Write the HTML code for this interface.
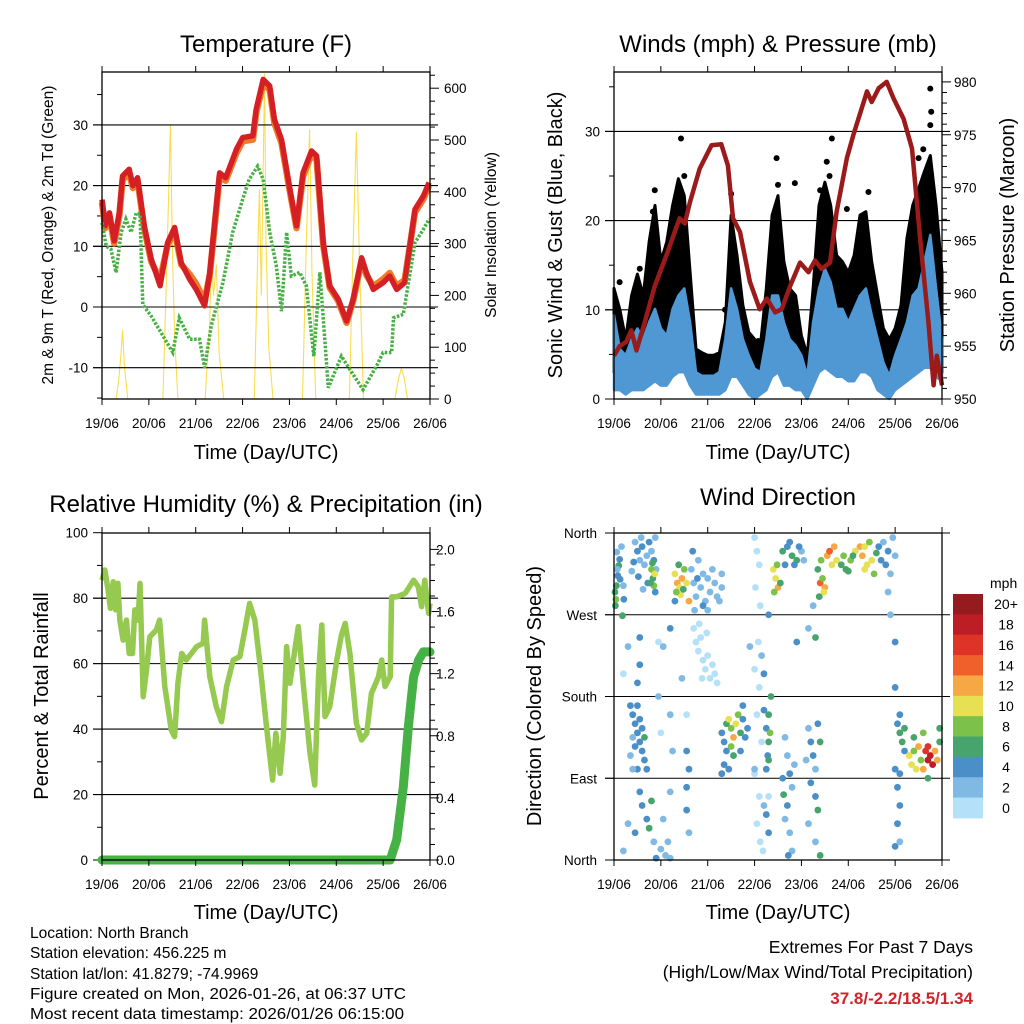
<!DOCTYPE html>
<html><head><meta charset="utf-8"><style>
html,body{margin:0;padding:0;background:#fff}
svg{display:block}
text{font-family:"Liberation Sans",sans-serif;fill:#000}
</style></head><body>
<svg id="fig" width="1024" height="1024" viewBox="0 0 1024 1024" xmlns="http://www.w3.org/2000/svg">
<g id="layer"></g>
<text x="266" y="52" font-size="24" text-anchor="middle">Temperature (F)</text>
<text x="778" y="52" font-size="24" text-anchor="middle">Winds (mph) &amp; Pressure (mb)</text>
<text x="266" y="512" font-size="24" text-anchor="middle">Relative Humidity (%) &amp; Precipitation (in)</text>
<text x="778" y="505" font-size="24" text-anchor="middle">Wind Direction</text>
<text x="266" y="459" font-size="20" text-anchor="middle">Time (Day/UTC)</text>
<text x="778" y="459" font-size="20" text-anchor="middle">Time (Day/UTC)</text>
<text x="266" y="919" font-size="20" text-anchor="middle">Time (Day/UTC)</text>
<text x="778" y="919" font-size="20" text-anchor="middle">Time (Day/UTC)</text>
<text transform="translate(53,235) rotate(-90)" font-size="15.5" text-anchor="middle">2m &amp; 9m T (Red, Orange) &amp; 2m Td (Green)</text>
<text transform="translate(496,235) rotate(-90)" font-size="15.5" text-anchor="middle">Solar Insolation (Yellow)</text>
<text transform="translate(562,235) rotate(-90)" font-size="20" text-anchor="middle">Sonic Wind &amp; Gust (Blue, Black)</text>
<text transform="translate(1014,235) rotate(-90)" font-size="20" text-anchor="middle">Station Pressure (Maroon)</text>
<text transform="translate(48,696) rotate(-90)" font-size="20" text-anchor="middle">Percent &amp; Total Rainfall</text>
<text transform="translate(541,696) rotate(-90)" font-size="20" text-anchor="middle">Direction (Colored By Speed)</text>
<g font-size="15.5">
<text x="30" y="938">Location: North Branch</text>
<text x="30" y="958">Station elevation: 456.225 m</text>
<text x="30" y="979">Station lat/lon: 41.8279; -74.9969</text>
<text x="30" y="999" textLength="376" lengthAdjust="spacingAndGlyphs">Figure created on Mon, 2026-01-26, at 06:37 UTC</text>
<text x="30" y="1019" textLength="374" lengthAdjust="spacingAndGlyphs">Most recent data timestamp: 2026/01/26 06:15:00</text>
</g>
<text x="973" y="953" font-size="17.5" text-anchor="end">Extremes For Past 7 Days</text>
<text x="973" y="978" font-size="17.5" text-anchor="end">(High/Low/Max Wind/Total Precipitation)</text>
<text x="973" y="1004" font-size="17" font-weight="bold" text-anchor="end" style="fill:#d0232a">37.8/-2.2/18.5/1.34</text>
</svg>
<script>
// ---------- data ----------
const dayLabels=["19/06","20/06","21/06","22/06","23/06","24/06","25/06","26/06"];
// temperature (F)
const tDays=[0,0.07,0.16,0.26,0.37,0.44,0.58,0.66,0.76,0.9,1.05,1.24,1.4,1.55,1.69,1.87,2.01,2.19,2.3,2.51,2.64,2.87,3.0,3.22,3.29,3.44,3.58,3.68,3.83,4.01,4.15,4.29,4.47,4.58,4.72,4.86,5.04,5.22,5.36,5.54,5.64,5.79,6.0,6.14,6.29,6.46,6.68,6.86,6.98];
const t2m=[17.7,13.4,15.5,10.9,15.5,21.6,22.7,20,21.3,13.4,7.9,3.5,10.6,13.1,7.3,4.6,2.9,0.2,5.7,22.1,21.3,26,27.9,28.2,32.6,37.5,36.4,30.9,27.6,19.4,13.4,22.1,25.7,24.9,10.6,3.5,1.3,-2.3,1.3,8.1,5.7,2.9,4,5.1,2.9,4,16.1,18.3,20.5];
const t9m=[17.2,13.0,15.0,10.5,15.0,21.0,22.0,19.6,20.8,13.0,7.5,4.5,10.2,12.6,7.0,5.4,3.8,1.0,5.3,21.5,20.8,25.4,27.3,27.6,32.0,36.8,35.8,30.3,27.0,19.0,13.0,21.5,25.1,24.3,10.2,3.2,1.0,-2.6,1.0,7.7,5.3,3.4,4.6,5.6,3.4,4.5,15.6,17.8,20.0];
const tdDays=[0,0.09,0.19,0.3,0.41,0.51,0.62,0.73,0.81,0.87,1.05,1.26,1.51,1.65,1.87,2.08,2.19,2.33,2.58,2.79,3.0,3.14,3.32,3.44,3.58,3.72,3.83,3.94,4.04,4.22,4.36,4.52,4.65,4.83,5.11,5.29,5.57,5.86,6.0,6.18,6.22,6.43,6.68,6.86,6.98];
const td2m=[13.9,10,9.5,5.7,12.3,14.5,12.3,15.5,15.3,0.4,-1.5,-4.2,-7.5,-1.8,-5.3,-5.3,-10,-3.1,4,12.3,17.7,21,23.2,21,12.3,6.8,-0.7,12.3,5.1,5.7,3.5,-8.1,5.7,-13.3,-8.1,-10.3,-13.6,-9.7,-7.5,-7.5,-1.8,-1.2,10.6,12.8,14.5];
const solarDays=[0,0.3,0.36,0.4,0.44,0.48,0.55,1.3,1.38,1.46,1.5,1.55,1.62,2.2,2.3,2.33,2.38,2.44,2.5,2.6,3.25,3.33,3.36,3.4,3.47,3.5,3.56,3.65,4.28,4.36,4.43,4.48,4.56,5.28,5.36,5.43,5.5,5.58,6.25,6.33,6.39,6.45,6.52,7];
const solarVals=[0,0,40,80,133,60,0,0,250,529,300,120,0,0,150,285,200,260,90,0,0,300,404,200,629,300,100,0,0,300,520,250,0,0,300,516,250,0,0,40,59,40,0,0];
// winds (mph) & pressure (mb)
const wDays=[0,0.125,0.25,0.375,0.5,0.625,0.75,0.875,1,1.125,1.25,1.375,1.5,1.625,1.75,1.875,2,2.125,2.25,2.375,2.5,2.625,2.75,2.875,3,3.125,3.25,3.375,3.5,3.625,3.75,3.875,4,4.125,4.25,4.375,4.5,4.625,4.75,4.875,5,5.125,5.25,5.375,5.5,5.625,5.75,5.875,6,6.125,6.25,6.375,6.5,6.625,6.75,6.875,7];
const gustHi=[12.4,10,6.7,11.6,14,11.6,17.6,21.7,15.4,17.6,21.7,24.7,22.8,14.2,5.6,5.2,4.9,4.9,5.2,8.6,20.6,16.1,10.5,7.5,6.7,6,12.4,20.6,22.8,15.4,12.4,11.6,7.1,4.9,12.4,21.7,24.3,21.7,16.1,15.4,14.2,16.1,20.6,21,15.4,11.6,7.9,6.7,7.9,10.5,18,21.7,23.6,25.5,27.3,21.7,14.2];
const gustLo=[3,2,2,3,3,3,3,4,3,3,4,4,4,3,1,1,1,1,1,2,4,4,3,2,1,1,2,4,4,3,3,2,2,1,3,4,5,5,4,4,3,3,4,4,4,2,1,1,2,3,3,4,4,5,5,4,3];
const windHi=[9.4,5.6,4.9,6.7,7.9,6.7,8.6,10.1,7.9,7.1,10.1,11.6,12.4,8.6,3,2.6,2.6,2.6,3,6.7,12.4,10.1,6.7,4.9,3.4,3,6.7,11.6,11.6,8.6,6.7,6,4.9,2.6,8.6,12.4,14.6,13.1,10.1,10.1,8.6,10.1,11.6,12.4,9.4,6.7,4.1,2.6,4.9,6.7,8.6,11.6,12.4,15.4,18.4,12.4,6.7];
const windLo=[1,1,0.5,1,1,1,1.5,2,1.5,1.5,2.5,3,3,1.5,0.5,0.5,0.5,0.5,0.5,1,2.5,2.5,1.5,0.5,0,0.5,1,2.5,3,1.5,1.5,1,1,0,1.5,3,3.5,3,2.5,2.5,2,2,3,3,2.5,1,0.5,0,1,1.5,2,2.5,3,3.5,3.5,2.5,2];
const gustOutDays=[1.43,0.87,3.47,3.86,4.65,4.54,6.75,6.77,6.75,4.4,5.43,0.55,0.12,0.83,4.97,2.37,3.08,1.5,2.5,3.5,4.6,6.5,6.6];
const gustOutVals=[29.2,23.4,27,24.2,29.2,26.6,34.8,32.2,30.7,23.4,23.2,14.6,13.1,21,21.3,10,6.5,25,23,24,25,27,28];
const pDays=[0,0.12,0.26,0.37,0.48,0.66,0.87,1.12,1.4,1.51,1.62,1.83,2.08,2.29,2.43,2.54,2.69,2.9,3.11,3.26,3.44,3.58,3.76,3.97,4.15,4.29,4.43,4.61,4.75,4.97,5.11,5.4,5.5,5.65,5.82,5.97,6.18,6.36,6.54,6.71,6.82,6.89,7.0];
const pres=[954.1,955,955.4,956.5,954.6,957.3,960.7,963.6,967.1,966.6,968.6,971.8,974,974.1,972.1,967.1,965.8,961.1,958.5,959.5,958.2,958.5,960.7,962.9,962,963.1,962.3,962.9,967.7,972.8,975,979.1,978.1,979.4,980,978.4,976.5,973.7,964.9,957.3,951.3,954.1,951.3];
// relative humidity (%) & precipitation (in)
const rhDays=[0,0.06,0.13,0.18,0.24,0.29,0.34,0.38,0.45,0.52,0.58,0.65,0.7,0.77,0.81,0.88,0.95,1.02,1.16,1.23,1.34,1.48,1.55,1.62,1.7,1.8,2.02,2.16,2.19,2.3,2.44,2.55,2.66,2.8,2.94,3.05,3.15,3.26,3.37,3.51,3.64,3.71,3.8,3.87,3.94,4.01,4.19,4.3,4.44,4.54,4.62,4.69,4.76,4.86,5.01,5.11,5.19,5.29,5.43,5.54,5.65,5.75,5.9,5.97,6.04,6.15,6.18,6.29,6.47,6.65,6.75,6.82,6.89,6.97,7.0];
const rhVals=[85.5,88.6,82.5,76.9,85,76.4,84.5,73.3,67.2,73.3,63.1,63.1,76.4,73.3,84.5,49.9,58,68.2,70.3,73.3,53,39.7,37.7,54,63.1,61.1,65.2,66.2,73.3,56,46.8,42.3,53,61.1,62.1,70.3,78.4,73.3,60.1,40.7,24.4,38.7,26.5,37.7,65.2,54,71.3,53,32.6,22.9,56,71.8,43.8,46.8,61.1,68.7,72.3,63.1,41.8,36.7,38.7,50.9,56,61.1,53,56,80.4,80.4,81.5,85.5,83.5,77.4,85.5,75.4,78.4];
const prDays=[0,1,2,3,4,5,6,6.15,6.29,6.43,6.54,6.65,6.76,6.86,7.0];
const prVals=[0,0,0,0,0,0,0,0,0.13,0.47,0.86,1.18,1.29,1.34,1.34];
// wind direction: [day, direction deg, speed mph]
const dirObs=[
[0.02,295,7],[0.04,287,9],[0.05,302,7],[0.08,313,5],[0.1,324,7],[0.12,331,5],[0.13,309,5],[0.03,280,7],[0.07,320,3],[0.16,345,3],[0.2,302,3],[0.21,287,5],[0.18,269,7],[0.06,339,3],
[0.45,350,3],[0.5,340,5],[0.55,330,3],[0.6,345,5],[0.65,325,3],[0.7,335,3],[0.75,350,5],[0.8,340,3],[0.85,330,5],[0.38,318,3],[0.42,328,5],[0.52,312,5],[0.62,298,3],[0.72,305,5],[0.88,355,3],[0.9,320,3],[0.58,355,3],
[0.8,320,9],[0.83,310,7],[0.85,302,9],[0.82,327,7],[0.87,315,11],[0.78,305,7],[0.88,295,5],
[1.3,315,11],[1.35,305,13],[1.4,300,11],[1.45,310,13],[1.5,320,9],[1.38,325,7],[1.42,292,11],[1.48,298,7],[1.33,295,9],[1.55,305,11],[1.6,285,13],[1.3,285,5],
[1.65,320,3],[1.7,305,3],[1.75,290,3],[1.8,330,3],[1.85,300,3],[1.9,315,3],[1.95,285,3],[2.0,310,3],[2.05,295,3],[2.1,320,3],[2.15,305,3],[2.2,290,3],[2.25,285,3],[2.3,300,3],[2.3,315,3],[1.72,275,3],[1.9,280,5],[2.0,275,3],[1.68,340,5],[1.78,310,5],
[1.7,255,1],[1.75,240,1],[1.8,230,1],[1.85,245,1],[1.9,220,1],[1.95,210,1],[2.0,225,1],[2.05,200,1],[2.1,215,1],[2.15,205,1],[1.82,260,1],[1.98,250,1],[2.2,195,1],[1.88,200,1],
[3.0,355,1],[3.05,340,1],[3.1,325,1],[3.02,300,1],[3.12,280,1],[3.08,240,1],[3.0,210,1],[3.1,190,1],[3.05,160,1],[3.15,130,1],[3.0,95,1],[3.1,70,1],[3.05,40,1],[3.12,20,1],[3.18,10,1],[3.15,225,3],[3.2,205,5],[3.0,100,3],
[3.4,320,11],[3.45,310,11],[3.5,300,13],[3.42,295,9],[3.48,325,9],[3.55,305,7],
[3.6,340,7],[3.7,345,5],[3.8,335,7],[3.9,330,7],[3.75,350,5],[3.85,325,5],[4.0,340,3],[3.65,325,5],[4.05,330,3],[3.95,345,5],
[4.35,320,7],[4.4,305,15],[4.45,310,9],[4.5,300,13],[4.42,330,9],[4.55,335,13],[4.6,340,15],[4.65,325,11],[4.7,345,13],[4.48,295,11],[4.38,290,7],
[4.75,330,11],[4.85,325,7],[4.95,320,7],[5.05,330,9],[5.15,340,11],[5.25,345,13],[4.9,335,9],[5.0,318,7],[5.1,335,7],
[5.3,335,13],[5.35,345,11],[5.4,325,11],[5.45,350,9],[5.5,330,11],[5.55,315,9],[5.6,338,7],[5.35,320,11],
[5.65,345,5],[5.7,330,5],[5.75,350,3],[5.8,325,5],[5.85,340,5],[5.9,315,3],[5.95,355,3],[6.0,335,3],
[5.85,295,3],[5.9,270,3],[6.0,240,5],[6.0,190,5],[4.3,245,7],[4.25,280,3],[4.15,255,3],[3.9,240,5],[3.3,270,5],[2.9,235,3],[1.05,235,3],[0.3,235,3],[0.2,205,1],[0.55,245,5],[0.55,215,5],[0.5,195,5],[0.95,240,1],[1.2,255,5],
[0.35,170,5],[0.4,160,5],[0.45,150,5],[0.5,140,5],[0.55,130,5],[0.6,120,5],[0.65,110,5],[0.4,135,3],[0.5,170,5],[0.55,155,5],[0.6,145,5],[0.45,125,5],[0.35,115,3],[0.65,135,7],[0.7,100,5],[0.5,100,5],[0.4,100,3],
[0.55,75,5],[0.6,60,5],[0.7,45,5],[0.75,35,7],[0.3,40,3],[0.45,30,5],[0.2,10,3],[0.8,65,7],[0.85,20,3],[1.0,12,3],[1.1,5,3],[0.9,2,5],[1.2,2,3],[1.15,20,3],[1.05,45,3],[1.2,75,3],[1.25,120,3],[1.2,160,3],[0.95,180,3],[1.0,140,1],[1.55,120,5],[1.6,100,5],[1.55,55,5],[1.6,30,3],[1.55,80,5],[1.45,200,3],[1.55,160,1],
[2.3,140,5],[2.35,130,5],[2.4,150,7],[2.45,155,11],[2.5,145,9],[2.55,135,13],[2.6,150,11],[2.65,160,9],[2.7,140,7],[2.75,155,5],[2.8,135,5],[2.85,145,5],[2.4,120,5],[2.55,115,7],[2.7,120,5],[2.35,105,5],[2.45,100,5],[2.5,125,9],[2.75,170,5],[2.3,95,5],
[3.2,165,5],[3.25,145,5],[3.3,130,7],[3.28,115,5],[3.25,100,5],[3.3,160,7],[3.35,180,7],[3.33,140,9],[3.3,110,7],[3.3,70,1],[3.25,50,5],[3.3,30,5],[3.2,60,3],
[3.65,135,3],[3.7,115,3],[3.75,95,5],[3.8,80,3],[3.7,60,5],[3.65,45,3],[3.75,30,3],[3.8,10,3],[3.6,90,5],[3.62,72,7],[3.85,105,3],[3.72,5,5],
[4.15,145,3],[4.2,130,5],[4.25,115,5],[4.3,100,3],[4.2,85,5],[4.3,70,5],[4.35,55,7],[4.15,40,3],[4.3,20,3],[4.4,130,7],[4.35,150,5],[4.4,5,7],[4.1,110,3],
[6.05,150,5],[6.1,140,7],[6.15,130,7],[6.2,120,5],[6.1,160,5],[6.2,145,7],[6.0,100,5],[6.05,80,5],[6.1,60,5],[6.05,40,5],[6.0,15,5],[6.1,20,3],[6.1,95,5],
[6.3,115,11],[6.35,105,11],[6.4,120,9],[6.45,100,11],[6.5,125,13],[6.55,110,9],[6.6,100,13],[6.65,120,17],[6.7,110,19],[6.75,115,19],[6.8,105,19],[6.7,125,17],[6.85,120,13],[6.9,110,13],[6.95,130,7],[6.95,145,7],[6.4,135,7],[6.6,140,9],[6.7,90,7]
];
const speedBins=[0,2,4,6,8,10,12,14,16,18,20];
const speedLabels=["0","2","4","6","8","10","12","14","16","18","20+"];
const speedColors=["#b4e1f7","#80bae4","#4a8fc7","#48a46d","#7cc14a","#e6e052","#f5a843","#ef602a","#de3427","#bd1d24","#951b1e"];

// ---------- helpers ----------
const NS="http://www.w3.org/2000/svg";
const layer=document.getElementById('layer');
function mk(tag,attrs,parent){const e=document.createElementNS(NS,tag);for(const k in attrs)e.setAttribute(k,attrs[k]);(parent||layer).appendChild(e);return e;}
function pathFrom(xs,ys){let d='';for(let i=0;i<xs.length;i++)d+=(i?'L':'M')+xs[i].toFixed(1)+','+ys[i].toFixed(1);return d;}
function binIndex(s){let k=0;for(let i=0;i<speedBins.length;i++)if(s>=speedBins[i])k=i;return k;}

function panel(name,L,R,T,B){
  const xs=d=>L+d*(R-L)/7;
  const g=mk('g',{});
  
  
  return {L,R,T,B,x:xs,g};
}
function frame(p,name,labelY){
  const fr=mk('rect',{x:p.L,y:p.T,width:p.R-p.L,height:p.B-p.T,fill:'none',stroke:'#000','stroke-width':1.3});
  
  
  for(let i=0;i<dayLabels.length;i++){
    const x=p.x(i);
    const tb=mk('line',{x1:x,x2:x,y1:p.B,y2:p.B+6,stroke:'#000','stroke-width':1});
    
    
    const tt=mk('line',{x1:x,x2:x,y1:p.T,y2:p.T-6,stroke:'#000','stroke-width':1});
    
    
    const lb=mk('text',{x:x,y:labelY,'font-size':13.5,'text-anchor':'middle'});
    lb.textContent=dayLabels[i];
    
    
  }
}
function hgrid(p,name,y){
  const ln=mk('line',{x1:p.L-9,x2:p.R+8,y1:y,y2:y,stroke:'#000','stroke-width':1.1});
  
  
}
function yTick(x,y,len,label,anchor,lx,name){
  const t=mk('line',{x1:x,x2:x+len,y1:y,y2:y,stroke:'#000','stroke-width':1});
  
  
  if(label!==null){
    const tx=mk('text',{x:lx,y:y+5,'font-size':13.5,'text-anchor':anchor});
    tx.textContent=label;
    
    
  }
}

// ---------- panel 1: temperature ----------
(function(){
  const p=panel('temperature',102,430,72,399);
  const yT=v=>307-v*6.07, yS=v=>399-v*0.518;
  const sol=mk('path',{d:pathFrom(solarDays.map(p.x),solarVals.map(yS)),fill:'none',stroke:'#f9de4c','stroke-width':1.1});
  
  
  [-10,0,10,20,30].forEach(v=>{hgrid(p,'temperature',yT(v));yTick(p.L-9,yT(v),9,String(v),'end',p.L-14,'temperature-y');});
  for(let v=-15;v<=38;v+=5){if(v%10!==0)yTick(p.L-5,yT(v),5,null,'end',0,'temperature-y-minor');}
  for(let v=0;v<=600;v+=100)yTick(p.R,yS(v),9,String(v),'start',p.R+14,'solar-y');
  for(let v=25;v<=625;v+=25){if(v%100!==0)yTick(p.R,yS(v),5,null,'start',0,'solar-y-minor');}
  const o=mk('path',{d:pathFrom(tDays.map(p.x),t9m.map(yT)),fill:'none',stroke:'#f07a2a','stroke-width':6.5,'stroke-linejoin':'round'});
  
  
  const r=mk('path',{d:pathFrom(tDays.map(p.x),t2m.map(yT)),fill:'none',stroke:'#d42025','stroke-width':5.5,'stroke-linejoin':'round'});
  
  
  const gr=mk('path',{d:pathFrom(tdDays.map(p.x),td2m.map(yT)),fill:'none',stroke:'#46b043','stroke-width':3.5,'stroke-dasharray':'2.5 1.6'});
  
  
  frame(p,'temperature',428);
})();

// ---------- panel 2: winds & pressure ----------
(function(){
  const p=panel('winds',614,942,72,399);
  const yW=v=>399-v*8.92, yP=v=>399-(v-950)*10.57;
  [10,20,30].forEach(v=>hgrid(p,'winds',yW(v)));
  [0,10,20,30].forEach(v=>yTick(p.L-9,yW(v),9,String(v),'end',p.L-14,'wind-y'));
  for(let v=5;v<=35;v+=10)yTick(p.L-5,yW(v),5,null,'end',0,'wind-y-minor');
  for(let v=950;v<=980;v+=5)yTick(p.R,yP(v),9,String(v),'start',p.R+12,'pressure-y');
  for(let v=951;v<=980;v++){if(v%5!==0)yTick(p.R,yP(v),5,null,'start',0,'pressure-y-minor');}
  const gx=wDays.map(p.x);
  const gb=mk('path',{d:pathFrom(gx.concat(gx.slice().reverse()),gustHi.map(yW).concat(gustLo.map(yW).reverse()))+'Z',fill:'#000',stroke:'#000','stroke-width':3,'stroke-linejoin':'round'});
  
  
  for(let i=0;i<gustOutDays.length;i++){
    const c=mk('circle',{cx:p.x(gustOutDays[i]),cy:yW(gustOutVals[i]),r:3,fill:'#000'});
    
    
  }
  const wb=mk('path',{d:pathFrom(gx.concat(gx.slice().reverse()),windHi.map(yW).concat(windLo.map(yW).reverse()))+'Z',fill:'#4f98d3',stroke:'#4f98d3','stroke-width':2.5,'stroke-linejoin':'round'});
  
  
  const pl=mk('path',{d:pathFrom(pDays.map(p.x),pres.map(yP)),fill:'none',stroke:'#9b1a1a','stroke-width':4.5,'stroke-linejoin':'round'});
  
  
  frame(p,'winds',428);
})();

// ---------- panel 3: RH & precip ----------
(function(){
  const p=panel('humidity',102,430,533,860);
  const yR=v=>860-v*3.273, yPr=v=>860-v*155.3;
  [20,40,60,80].forEach(v=>hgrid(p,'humidity',yR(v)));
  [0,20,40,60,80,100].forEach(v=>yTick(p.L-9,yR(v),9,String(v),'end',p.L-14,'humidity-y'));
  for(let v=10;v<=90;v+=20)yTick(p.L-5,yR(v),5,null,'end',0,'humidity-y-minor');
  ['0.0','0.4','0.8','1.2','1.6','2.0'].forEach(s=>yTick(p.R,yPr(+s),9,s,'start',p.R+6,'precip-y'));
  for(let v=0.1;v<2.1;v+=0.1){const r=Math.round(v*10);if(r%4!==0)yTick(p.R,yPr(r/10),5,null,'start',0,'precip-y-minor');}
  const rh=mk('path',{d:pathFrom(rhDays.map(p.x),rhVals.map(yR)),fill:'none',stroke:'#95c94f','stroke-width':5.5,'stroke-linejoin':'round'});
  
  
  const pr=mk('path',{d:pathFrom(prDays.map(p.x),prVals.map(yPr)),fill:'none',stroke:'#46b246','stroke-width':9,'stroke-linecap':'round','stroke-linejoin':'round'});
  
  
  frame(p,'humidity',889);
})();

// ---------- panel 4: wind direction ----------
(function(){
  const p=panel('direction',614,942,533,860);
  const yD=v=>860-v*0.9083;
  const dirNames=['North','East','South','West','North'];
  [0,90,180,270,360].forEach((v,i)=>{hgrid(p,'direction',yD(v));yTick(p.L-9,yD(v),9,dirNames[i],'end',p.L-17,'direction-y');});
  for(const ob of dirObs){
    const c=mk('circle',{cx:p.x(ob[0]),cy:yD(ob[1]),r:3.4,fill:speedColors[binIndex(ob[2])]});
    
    
  }
  frame(p,'direction',889);
  const top=594,h=20.36;
  const mph=mk('text',{x:990,y:588,'font-size':14});
  mph.textContent='mph';
  
  
  for(let i=0;i<speedColors.length;i++){
    const k=speedColors.length-1-i;
    const y=top+i*h;
    const b=mk('rect',{x:953,y:y,width:30,height:h+0.5,fill:speedColors[k]});
    
    
    const t=mk('text',{x:1006,y:y+h/2+5,'font-size':14,'text-anchor':'middle'});
    t.textContent=speedLabels[k];
    
    
  }
})();
</script>
</body></html>
